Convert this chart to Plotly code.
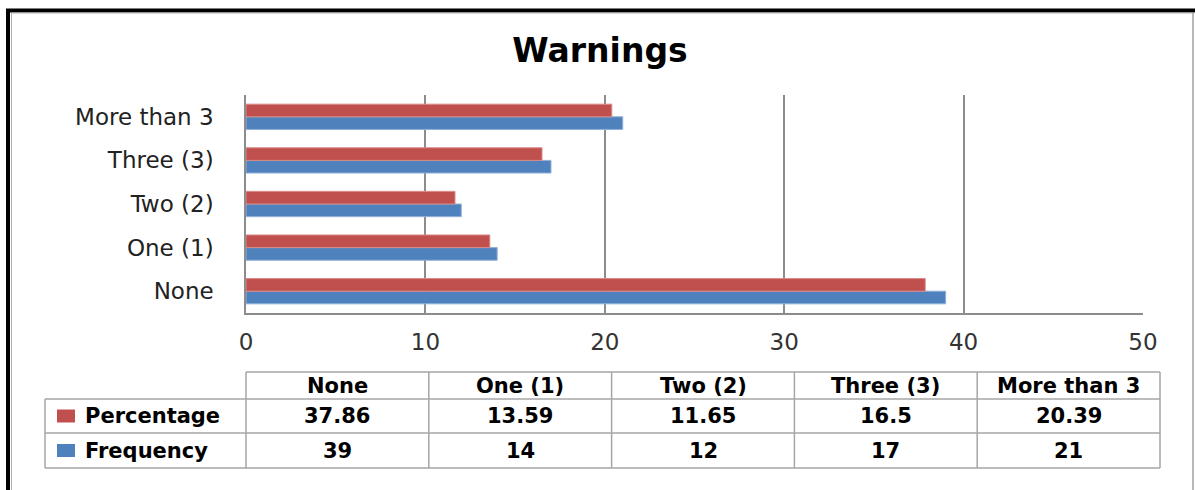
import plotly.graph_objects as go

# Data
categories = ["None", "One (1)", "Two (2)", "Three (3)", "More than 3"]
percentage = [37.86, 13.59, 11.65, 16.5, 20.39]
frequency = [39, 14, 12, 17, 21]
series_names = ["Percentage", "Frequency"]
x_ticks = [0, 10, 20, 30, 40, 50]

RED = "#C0504D"
BLUE = "#4F81BD"
FONT = "DejaVu Sans"

W, H = 1195, 490
ML, MR, MT, MB = 246, 52, 95, 177
PW, PH = W - ML - MR, H - MT - MB


def px_x(px):
    return (px - ML) / PW


def px_y(py):
    return (H - MB - py) / PH


fig = go.Figure()
# Frequency first so it sits below Percentage in each group
fig.add_trace(go.Bar(y=categories, x=frequency, orientation="h", name=series_names[1],
                     marker=dict(color=BLUE, line=dict(color="#8FB0DA", width=1))))
fig.add_trace(go.Bar(y=categories, x=percentage, orientation="h", name=series_names[0],
                     marker=dict(color=RED, line=dict(color="#D98A88", width=1))))

shapes = []
annotations = []

# Outer frame
shapes.append(dict(type="line", xref="paper", yref="paper", x0=px_x(8), x1=px_x(8),
                   y0=px_y(9), y1=px_y(H), line=dict(color="black", width=4)))
shapes.append(dict(type="line", xref="paper", yref="paper", x0=px_x(6), x1=px_x(W),
                   y0=px_y(10.5), y1=px_y(10.5), line=dict(color="black", width=4)))
shapes.append(dict(type="line", xref="paper", yref="paper", x0=px_x(11.5), x1=px_x(11.5),
                   y0=px_y(13), y1=px_y(H), line=dict(color="#b0b0b0", width=1)))
shapes.append(dict(type="line", xref="paper", yref="paper", x0=px_x(11.5), x1=px_x(1193),
                   y0=px_y(13), y1=px_y(13), line=dict(color="#b0b0b0", width=1)))
shapes.append(dict(type="line", xref="paper", yref="paper", x0=px_x(1193), x1=px_x(1193),
                   y0=px_y(13), y1=px_y(H), line=dict(color="#a0a0a0", width=1.5)))

# Data table below the plot
grid_col = "#a6a6a6"
label_left = 45
col_w = 182.8
col_edges = [ML + i * col_w for i in range(len(categories) + 1)]
row_y = [372, 399, 433, 468]

shapes.append(dict(type="line", xref="paper", yref="paper", x0=px_x(col_edges[0]), x1=px_x(col_edges[-1]),
                   y0=px_y(row_y[0]), y1=px_y(row_y[0]), line=dict(color=grid_col, width=1.5)))
for ry in row_y[1:]:
    shapes.append(dict(type="line", xref="paper", yref="paper", x0=px_x(label_left), x1=px_x(col_edges[-1]),
                       y0=px_y(ry), y1=px_y(ry), line=dict(color=grid_col, width=1.5)))
shapes.append(dict(type="line", xref="paper", yref="paper", x0=px_x(label_left), x1=px_x(label_left),
                   y0=px_y(row_y[1]), y1=px_y(row_y[-1]), line=dict(color=grid_col, width=1.5)))
for cx in col_edges:
    shapes.append(dict(type="line", xref="paper", yref="paper", x0=px_x(cx), x1=px_x(cx),
                       y0=px_y(row_y[0]), y1=px_y(row_y[-1]), line=dict(color=grid_col, width=1.5)))

tfont = dict(family=FONT, size=21, color="black")
for i, cat in enumerate(categories):
    cx = (col_edges[i] + col_edges[i + 1]) / 2
    annotations.append(dict(xref="paper", yref="paper", x=px_x(cx), y=px_y((row_y[0] + row_y[1]) / 2),
                            text="<b>%s</b>" % cat, showarrow=False, font=tfont,
                            xanchor="center", yanchor="middle"))
    annotations.append(dict(xref="paper", yref="paper", x=px_x(cx), y=px_y((row_y[1] + row_y[2]) / 2),
                            text="<b>%s</b>" % percentage[i], showarrow=False, font=tfont,
                            xanchor="center", yanchor="middle"))
    annotations.append(dict(xref="paper", yref="paper", x=px_x(cx), y=px_y((row_y[2] + row_y[3]) / 2),
                            text="<b>%s</b>" % frequency[i], showarrow=False, font=tfont,
                            xanchor="center", yanchor="middle"))

# Row headers with legend keys
for name, color, (r0, r1) in [(series_names[0], RED, (row_y[1], row_y[2])),
                              (series_names[1], BLUE, (row_y[2], row_y[3]))]:
    cy = (r0 + r1) / 2
    shapes.append(dict(type="rect", xref="paper", yref="paper", x0=px_x(57), x1=px_x(75),
                       y0=px_y(cy - 6.5), y1=px_y(cy + 6.5), fillcolor=color, line=dict(width=0)))
    annotations.append(dict(xref="paper", yref="paper", x=px_x(83), y=px_y(cy),
                            text="<b>%s</b>" % name, showarrow=False, font=tfont,
                            xanchor="left", yanchor="middle"))

fig.update_layout(
    width=W, height=H,
    margin=dict(l=ML, r=MR, t=MT, b=MB),
    paper_bgcolor="white", plot_bgcolor="white",
    barmode="group", bargap=0.42, bargroupgap=0,
    showlegend=False,
    title=dict(text="<b>Warnings</b>", font=dict(family=FONT, size=33, color="black"),
               x=600 / W, xanchor="center", xref="container",
               y=1 - 50 / H, yanchor="middle", yref="container"),
    xaxis=dict(range=[0, 50], tickvals=x_ticks, showgrid=True, gridcolor="#8c8c8c", gridwidth=1.5,
               zeroline=False, showline=True, linecolor="#8c8c8c", linewidth=1.5,
               ticks="", tickfont=dict(family=FONT, size=23, color="#333333"), ticklabelstandoff=8),
    yaxis=dict(categoryorder="array", categoryarray=categories, showgrid=False,
               showline=True, linecolor="#8c8c8c", linewidth=1.5, ticks="",
               tickfont=dict(family=FONT, size=23, color="#222222"), ticklabelstandoff=26),
    shapes=shapes,
    annotations=annotations,
)

fig.write_html("out.html")
